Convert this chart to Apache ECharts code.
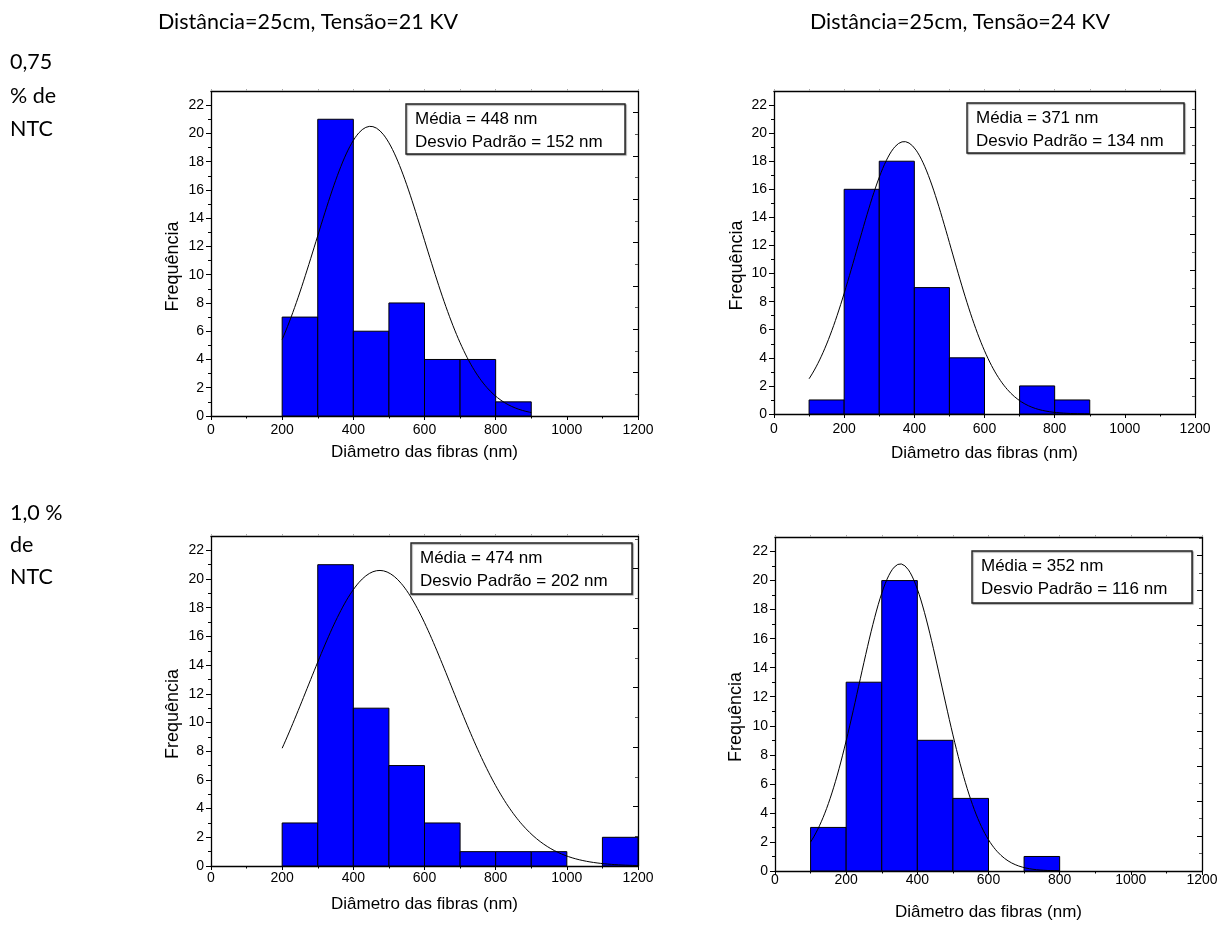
<!DOCTYPE html>
<html>
<head>
<meta charset="utf-8">
<title>Distribuição de diâmetros das fibras</title>
<script src="https://cdn.jsdelivr.net/npm/echarts@6/dist/echarts.min.js"></script>
<style>
  html, body { margin: 0; padding: 0; background: #ffffff; }
  #chart { width: 1227px; height: 925px; }
</style>
</head>
<body>
<div id="chart"></div>
<script>
// ---- data -------------------------------------------------------------
const BIN_WIDTH = 100;
const X_TICKS = [0, 200, 400, 600, 800, 1000, 1200];
const Y_TICKS = [0, 2, 4, 6, 8, 10, 12, 14, 16, 18, 20, 22];

const COLUMN_TITLES = ['Distância=25cm, Tensão=21 KV', 'Distância=25cm, Tensão=24 KV'];
const ROW_LABELS = [['0,75', '% de', 'NTC'], ['1,0 %', 'de', 'NTC']];

// histogram bins (lower edge, nm) and counts for each panel
const BIN_START = [
  [200, 300, 400, 500, 600, 700, 800],
  [100, 200, 300, 400, 500, 600, 700, 800],
  [200, 300, 400, 500, 600, 700, 800, 900, 1000, 1100],
  [100, 200, 300, 400, 500, 600, 700]
];
const COUNTS = [
  [7, 21, 6, 8, 4, 4, 1],
  [1, 16, 18, 9, 4, 0, 2, 1],
  [3, 21, 11, 7, 3, 1, 1, 1, 0, 2],
  [3, 13, 20, 9, 5, 0, 1]
];

// Gaussian fit parameters for each panel
const MEAN = [448, 371, 474, 352];
const SD = [152, 134, 202, 116];
const FIT_PEAK = [20.5, 19.4, 20.6, 21.15];
const FIT_FROM = [200, 100, 200, 100];
const FIT_TO = [900, 900, 1200, 800];

// ---- layout -----------------------------------------------------------
const GRIDS = [
  { left: 211, top: 91,  width: 427, height: 325 },
  { left: 774, top: 91,  width: 421, height: 323 },
  { left: 211, top: 536, width: 427, height: 330 },
  { left: 775, top: 537, width: 427, height: 334 }
];
const X_LABEL_MARGIN = [7, 8, 5, 2];
const X_NAME_GAP = [28, 31, 30, 33];
const Y_NAME_GAP = [29, 28, 29, 30];
const RIGHT_MAX = [7.5, 9, 5.55, 9.53];
const BOXES = [
  { x: 406, y: 104, w: 219, h: 50 },
  { x: 967, y: 103, w: 217, h: 50 },
  { x: 411, y: 543, w: 221, h: 51 },
  { x: 972, y: 551, w: 220, h: 52 }
];

const AXIS_FONT = '"Liberation Sans", Arial, sans-serif';
const TITLE_FONT = 'Lato, "Open Sans", sans-serif';
const plain = function (v) { return String(v); };

function gaussPoints(i) {
  const pts = [];
  for (let x = FIT_FROM[i]; x <= FIT_TO[i] + 1e-9; x += 5) {
    const z = (x - MEAN[i]) / SD[i];
    pts.push([x, FIT_PEAK[i] * Math.exp(-0.5 * z * z)]);
  }
  return pts;
}

const grid = [], xAxis = [], yAxis = [], series = [], graphic = [];

GRIDS.forEach(function (g, i) {
  grid.push({ left: g.left, top: g.top, width: g.width, height: g.height, outerBoundsMode: 'none' });

  // bottom axis
  xAxis.push({
    type: 'value', gridIndex: i, position: 'bottom',
    min: 0, max: 1200, interval: 200,
    axisLine: { show: true, onZero: false, lineStyle: { color: '#000', width: 1.3 } },
    axisTick: { show: true, inside: false, length: 4, lineStyle: { color: '#000', width: 1 } },
    minorTick: { show: true, splitNumber: 2, length: 2.5, lineStyle: { color: '#000', width: 1 } },
    splitLine: { show: false },
    axisLabel: { color: '#000', fontSize: 14, fontFamily: AXIS_FONT, margin: X_LABEL_MARGIN[i], formatter: plain, customValues: X_TICKS },
    name: 'Diâmetro das fibras (nm)', nameLocation: 'middle', nameGap: X_NAME_GAP[i],
    nameTextStyle: { color: '#000', fontSize: 17, fontFamily: AXIS_FONT }
  });
  // top frame axis
  xAxis.push({
    type: 'value', gridIndex: i, position: 'top',
    min: 0, max: 1200, interval: 100,
    axisLine: { show: true, onZero: false, lineStyle: { color: '#000', width: 1.3 } },
    axisTick: { show: true, inside: false, length: 2, lineStyle: { color: '#aaa' } },
    splitLine: { show: false },
    axisLabel: { show: false }
  });

  // left axis
  yAxis.push({
    type: 'value', gridIndex: i, position: 'left',
    min: 0, max: 23, interval: 2,
    axisLine: { show: true, onZero: false, lineStyle: { color: '#000', width: 1.3 } },
    axisTick: { show: true, inside: false, length: 5, customValues: Y_TICKS, lineStyle: { color: '#000' } },
    minorTick: { show: true, splitNumber: 2, length: 3, lineStyle: { color: '#000' } },
    splitLine: { show: false },
    axisLabel: { color: '#000', fontSize: 14, fontFamily: AXIS_FONT, margin: 7, customValues: Y_TICKS, formatter: plain },
    name: 'Frequência', nameLocation: 'middle', nameGap: Y_NAME_GAP[i], nameRotate: 90,
    nameTextStyle: { color: '#000', fontSize: 18, fontFamily: AXIS_FONT, padding: [0, 26, 0, 0] }
  });
  // right frame axis
  yAxis.push({
    type: 'value', gridIndex: i, position: 'right',
    min: 0, max: RIGHT_MAX[i], interval: 1,
    axisLine: { show: true, onZero: false, lineStyle: { color: '#000', width: 1.3 } },
    axisTick: { show: true, inside: true, length: 5, lineStyle: { color: '#000' } },
    minorTick: { show: true, splitNumber: 2, length: 3, lineStyle: { color: '#555' } },
    splitLine: { show: false },
    axisLabel: { show: false }
  });

  const bins = BIN_START[i].map(function (s, k) { return [s, s + BIN_WIDTH, COUNTS[i][k]]; });
  series.push({
    type: 'custom', xAxisIndex: 2 * i, yAxisIndex: 2 * i,
    data: bins, encode: { x: [0, 1], y: 2 },
    clip: false, z: 2,
    renderItem: function (params, api) {
      const c = api.value(2);
      if (!c) return null;
      const p0 = api.coord([api.value(0), c]);
      const p1 = api.coord([api.value(1), 0]);
      return {
        type: 'rect',
        shape: { x: p0[0], y: p0[1], width: p1[0] - p0[0], height: p1[1] - p0[1] },
        style: { fill: '#0000ff', stroke: '#000', lineWidth: 1 }
      };
    }
  });
  series.push({
    type: 'line', xAxisIndex: 2 * i, yAxisIndex: 2 * i,
    data: gaussPoints(i), showSymbol: false, symbol: 'none', smooth: false,
    lineStyle: { color: '#000', width: 1 }, z: 3, silent: true
  });

  const b = BOXES[i];
  graphic.push({
    type: 'rect', z: 10,
    shape: { x: b.x, y: b.y, width: b.w, height: b.h },
    style: { fill: '#fff', stroke: '#222', lineWidth: 1.4, shadowColor: 'rgba(0,0,0,0.35)', shadowOffsetX: 1, shadowOffsetY: 1, shadowBlur: 1 }
  });
  graphic.push({
    type: 'text', z: 11, x: b.x + 9, y: b.y + 15,
    style: { text: 'Média = ' + MEAN[i] + ' nm', fill: '#000', font: '17px ' + AXIS_FONT, verticalAlign: 'middle', align: 'left' }
  });
  graphic.push({
    type: 'text', z: 11, x: b.x + 9, y: b.y + 38.5,
    style: { text: 'Desvio Padrão = ' + SD[i] + ' nm', fill: '#000', font: '17px ' + AXIS_FONT, verticalAlign: 'middle', align: 'left' }
  });
});

// column headings
[308, 960].forEach(function (cx, k) {
  graphic.push({
    type: 'text', x: cx, y: 22,
    style: { text: COLUMN_TITLES[k], fill: '#000', font: '21.5px ' + TITLE_FONT, align: 'center', verticalAlign: 'middle' }
  });
});
// row headings
[[62, 96, 129], [513, 545, 577]].forEach(function (ys, r) {
  ys.forEach(function (y, k) {
    graphic.push({
      type: 'text', x: 10, y: y,
      style: { text: ROW_LABELS[r][k], fill: '#000', font: '21.5px ' + TITLE_FONT, align: 'left', verticalAlign: 'middle' }
    });
  });
});

const chart = echarts.init(document.getElementById('chart'), null, { renderer: 'canvas' });
chart.setOption({
  backgroundColor: '#ffffff',
  animation: false,
  grid: grid,
  xAxis: xAxis,
  yAxis: yAxis,
  series: series,
  graphic: graphic
});
</script>
</body>
</html>
